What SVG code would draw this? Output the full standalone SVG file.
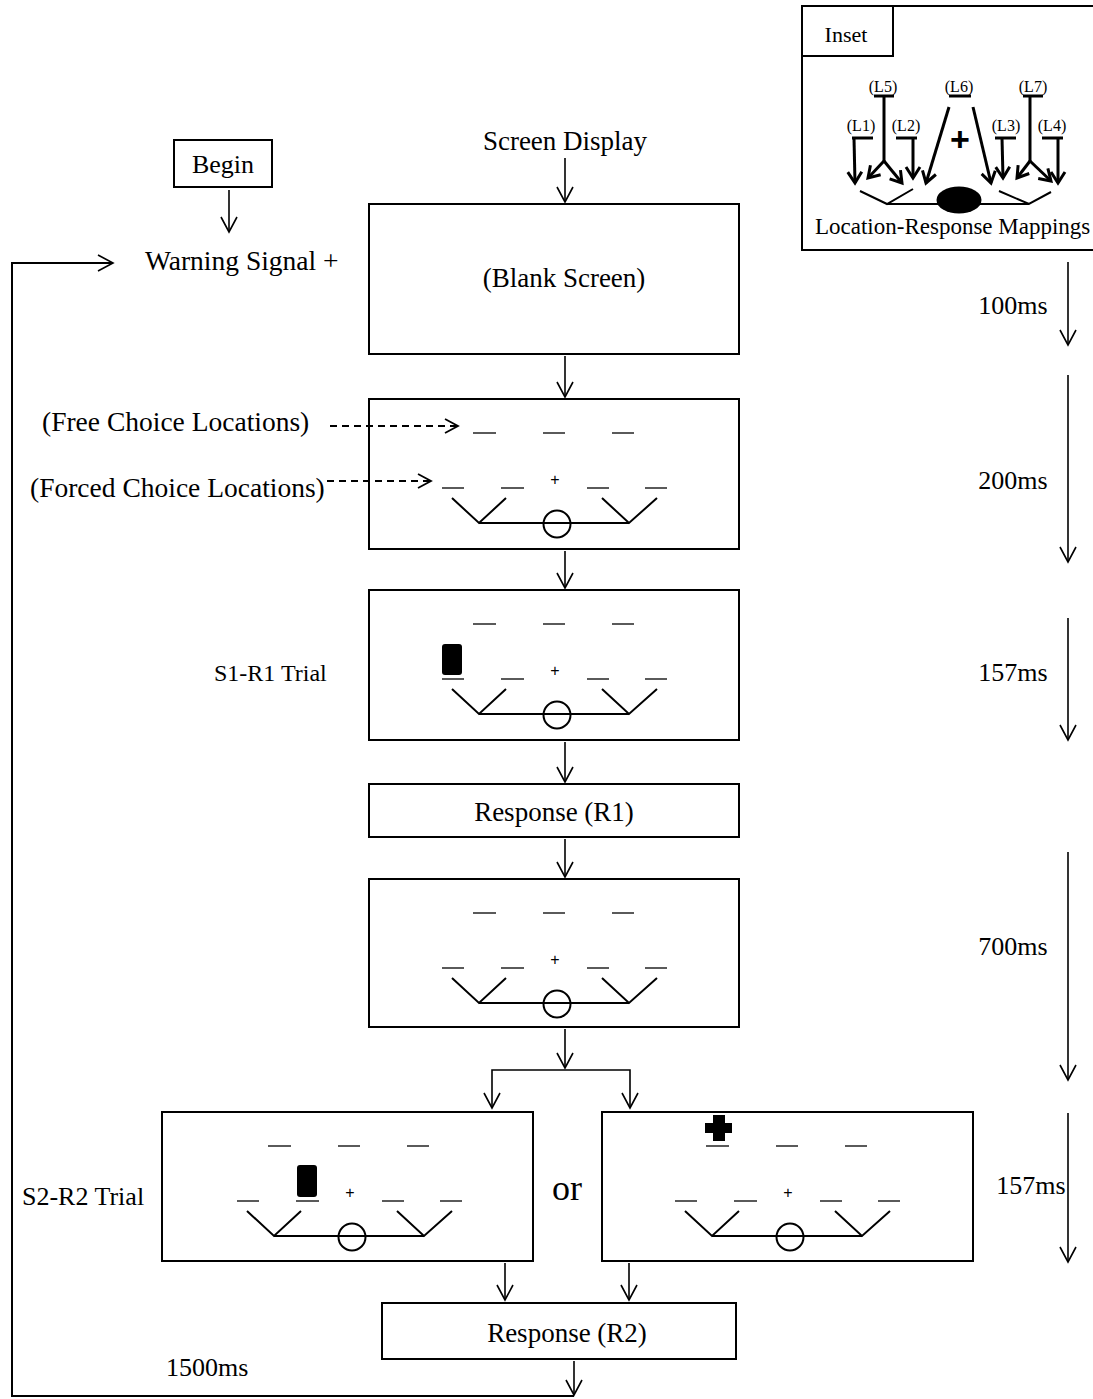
<svg xmlns="http://www.w3.org/2000/svg" xmlns:xlink="http://www.w3.org/1999/xlink" width="1093" height="1399" viewBox="0 0 1093 1399">
<style>
text{font-family:"Liberation Serif","Times New Roman",serif;fill:#000}
.t{font-size:26px}
.t27{font-size:27px}
.t275{font-size:27.5px}
.box{fill:#fff;stroke:#000;stroke-width:2}
.ln{fill:none;stroke:#000;stroke-width:1.6}
.dash{fill:none;stroke:#000;stroke-width:1.3}
.v{fill:none;stroke:#000;stroke-width:2}
.dsh{fill:none;stroke:#000;stroke-width:1.8;stroke-dasharray:7 5}
.thick{fill:none;stroke:#000;stroke-width:3}
.lab{font-size:16px}
</style>
<defs>
<marker id="ah" markerUnits="userSpaceOnUse" orient="auto" markerWidth="20" markerHeight="20" refX="0" refY="0" viewBox="-18 -10 20 20" overflow="visible">
<path d="M-15,-8 L0,0 L-15,8" fill="none" stroke="#000" stroke-width="1.6"/>
</marker>
<marker id="ahd" markerUnits="userSpaceOnUse" orient="auto" markerWidth="20" markerHeight="20" refX="0" refY="0" viewBox="-18 -10 20 20" overflow="visible">
<path d="M-13,-7 L0,0 L-13,7" fill="none" stroke="#000" stroke-width="1.8"/>
</marker>
<marker id="ahi" markerUnits="userSpaceOnUse" orient="auto" markerWidth="20" markerHeight="20" refX="0" refY="0" viewBox="-18 -10 20 20" overflow="visible">
<path d="M-11,-7 L0,0 L-11,7" fill="none" stroke="#000" stroke-width="3"/>
</marker>
<g id="disp">
<line class="dash" x1="104" y1="34" x2="127" y2="34"/>
<line class="dash" x1="174" y1="34" x2="196" y2="34"/>
<line class="dash" x1="243" y1="34" x2="265" y2="34"/>
<line class="dash" x1="73" y1="89" x2="95" y2="89"/>
<line class="dash" x1="132" y1="89" x2="155" y2="89"/>
<line class="dash" x1="218" y1="89" x2="240" y2="89"/>
<line class="dash" x1="276" y1="89" x2="298" y2="89"/>
<text x="186" y="86" text-anchor="middle" style="font-family:'Liberation Sans',Arial,sans-serif;font-size:16px">+</text>
<path class="v" d="M83,99 L110,124 L137,99"/>
<path class="v" d="M233,99 L260,124 L288,99"/>
<line class="v" x1="110" y1="124" x2="260" y2="124"/>
<circle class="v" cx="188" cy="125" r="13.5" fill="#fff"/>
</g>
</defs>
<rect width="1093" height="1399" fill="#fff"/>

<g id="begin">
<rect class="box" x="174" y="140" width="98" height="47"/>
<text class="t" x="223" y="173" text-anchor="middle">Begin</text>
</g>
<g id="warning">
<text class="t275" x="145" y="270">Warning Signal +</text>
</g>
<g id="screen-display">
<text class="t27" x="565" y="150" text-anchor="middle">Screen Display</text>
</g>
<g id="blank">
<rect class="box" x="369" y="204" width="370" height="150"/>
<text class="t27" x="564" y="287" text-anchor="middle">(Blank Screen)</text>
</g>
<g id="locations">
<rect class="box" x="369" y="399" width="370" height="150"/>
<use xlink:href="#disp" transform="translate(369,399)"/>
</g>
<g id="free-label"><text class="t275" x="42" y="431">(Free Choice Locations)</text></g>
<g id="forced-label"><text class="t275" x="30" y="497">(Forced Choice Locations)</text></g>
<g id="s1r1">
<rect class="box" x="369" y="590" width="370" height="150"/>
<use xlink:href="#disp" transform="translate(369,590)"/>
<rect x="442" y="644" width="20" height="31" rx="3" fill="#000"/>
</g>
<g id="s1r1-label"><text x="214" y="681" style="font-size:24px">S1-R1 Trial</text></g>
<g id="r1">
<rect class="box" x="369" y="784" width="370" height="53"/>
<text class="t27" x="554" y="821" text-anchor="middle">Response (R1)</text>
</g>
<g id="interval">
<rect class="box" x="369" y="879" width="370" height="148"/>
<use xlink:href="#disp" transform="translate(369,879)"/>
</g>
<g id="s2r2-left">
<rect class="box" x="162" y="1112" width="371" height="149"/>
<use xlink:href="#disp" transform="translate(164,1112)"/>
<rect x="297" y="1165" width="20" height="32" rx="3" fill="#000"/>
</g>
<g id="or"><text x="567" y="1200" text-anchor="middle" style="font-size:36px">or</text></g>
<g id="s2r2-right">
<rect class="box" x="602" y="1112" width="371" height="149"/>
<use xlink:href="#disp" transform="translate(602,1112)"/>
<path d="M713,1115 H725 V1123 H732 V1133 H725 V1141 H713 V1133 H705 V1123 H713 Z" fill="#000"/>
</g>
<g id="s2r2-label"><text class="t" x="22" y="1205">S2-R2 Trial</text></g>
<g id="r2">
<rect class="box" x="382" y="1303" width="354" height="56"/>
<text class="t27" x="567" y="1342" text-anchor="middle">Response (R2)</text>
</g>
<g id="iti"><text class="t" x="166" y="1376">1500ms</text></g>

<g id="timeline">
<text class="t" x="1013" y="314" text-anchor="middle">100ms</text>
<text class="t" x="1013" y="489" text-anchor="middle">200ms</text>
<text class="t" x="1013" y="681" text-anchor="middle">157ms</text>
<text class="t" x="1013" y="955" text-anchor="middle">700ms</text>
<text class="t" x="1031" y="1194" text-anchor="middle">157ms</text>
</g>

<g id="inset">
<rect x="802" y="6" width="300" height="244" fill="#fff" stroke="#000" stroke-width="2"/>
<rect x="802" y="6" width="91" height="50" fill="#fff" stroke="#000" stroke-width="2"/>
<text x="846" y="42" text-anchor="middle" style="font-size:22px">Inset</text>
<g>
<text class="lab" x="883" y="92" text-anchor="middle">(L5)</text>
<text class="lab" x="959" y="92" text-anchor="middle">(L6)</text>
<text class="lab" x="1033" y="92" text-anchor="middle">(L7)</text>
<text class="lab" x="861" y="131" text-anchor="middle">(L1)</text>
<text class="lab" x="906" y="131" text-anchor="middle">(L2)</text>
<text class="lab" x="1006" y="131" text-anchor="middle">(L3)</text>
<text class="lab" x="1052" y="131" text-anchor="middle">(L4)</text>
</g>
<g class="thick">
<line x1="874" y1="96" x2="894" y2="96"/>
<line x1="949" y1="96" x2="971" y2="96"/>
<line x1="1023" y1="96" x2="1043" y2="96"/>
<line x1="852" y1="138" x2="873" y2="138"/>
<line x1="896" y1="138" x2="917" y2="138"/>
<line x1="995" y1="138" x2="1016" y2="138"/>
<line x1="1042" y1="138" x2="1063" y2="138"/>
</g>
<text x="960" y="151" text-anchor="middle" style="font-family:'Liberation Sans',Arial,sans-serif;font-size:34px;font-weight:bold">+</text>
<g class="thick">
<path d="M854,138 L855,183" marker-end="url(#ahi)"/>
<path d="M884,96 L884,161"/>
<path d="M884,161 L868,178" marker-end="url(#ahi)"/>
<path d="M884,161 L902,183" marker-end="url(#ahi)"/>
<path d="M913,138 L913,178" marker-end="url(#ahi)"/>
<path d="M949,107 L926,183" marker-end="url(#ahi)"/>
<path d="M973,107 L991,183" marker-end="url(#ahi)"/>
<path d="M1002,138 L1003,178" marker-end="url(#ahi)"/>
<path d="M1030,96 L1030,161"/>
<path d="M1030,161 L1017,178" marker-end="url(#ahi)"/>
<path d="M1030,161 L1051,181" marker-end="url(#ahi)"/>
<path d="M1058,138 L1058,183" marker-end="url(#ahi)"/>
</g>
<path d="M860,191 L887,204 L913,189" fill="none" stroke="#000" stroke-width="2"/>
<path d="M999,191 L1029,204 L1051,192" fill="none" stroke="#000" stroke-width="2"/>
<line x1="887" y1="204" x2="1029" y2="204" stroke="#000" stroke-width="2"/>
<ellipse cx="959" cy="200" rx="22.5" ry="13.5" fill="#000"/>
<text x="815" y="234" style="font-size:23px">Location-Response Mappings</text>
</g>

<g id="connectors">
<line class="ln" x1="229" y1="190" x2="229" y2="232" marker-end="url(#ah)"/>
<line class="ln" x1="565" y1="158" x2="565" y2="202" marker-end="url(#ah)"/>
<line class="ln" x1="565" y1="356" x2="565" y2="397" marker-end="url(#ah)"/>
<line class="ln" x1="565" y1="551" x2="565" y2="588" marker-end="url(#ah)"/>
<line class="ln" x1="565" y1="742" x2="565" y2="782" marker-end="url(#ah)"/>
<line class="ln" x1="565" y1="839" x2="565" y2="877" marker-end="url(#ah)"/>
<line class="ln" x1="565" y1="1029" x2="565" y2="1068" marker-end="url(#ah)"/>
<path class="ln" d="M565,1070 H492 V1108" marker-end="url(#ah)"/>
<path class="ln" d="M565,1070 H630 V1108" marker-end="url(#ah)"/>
<line class="ln" x1="505" y1="1263" x2="505" y2="1300" marker-end="url(#ah)"/>
<line class="ln" x1="629" y1="1263" x2="629" y2="1300" marker-end="url(#ah)"/>
<line class="ln" x1="574" y1="1361" x2="574" y2="1395" marker-end="url(#ah)"/>
<path d="M574,1396 H12 V263 H113" fill="none" stroke="#000" stroke-width="2" marker-end="url(#ah)"/>
<line class="dsh" x1="330" y1="426" x2="458" y2="426" marker-end="url(#ahd)"/>
<line class="dsh" x1="327" y1="481" x2="431" y2="481" marker-end="url(#ahd)"/>
<line class="ln" x1="1068" y1="262" x2="1068" y2="345" marker-end="url(#ah)"/>
<line class="ln" x1="1068" y1="375" x2="1068" y2="562" marker-end="url(#ah)"/>
<line class="ln" x1="1068" y1="618" x2="1068" y2="740" marker-end="url(#ah)"/>
<line class="ln" x1="1068" y1="852" x2="1068" y2="1080" marker-end="url(#ah)"/>
<line class="ln" x1="1068" y1="1113" x2="1068" y2="1262" marker-end="url(#ah)"/>
</g>
</svg>
